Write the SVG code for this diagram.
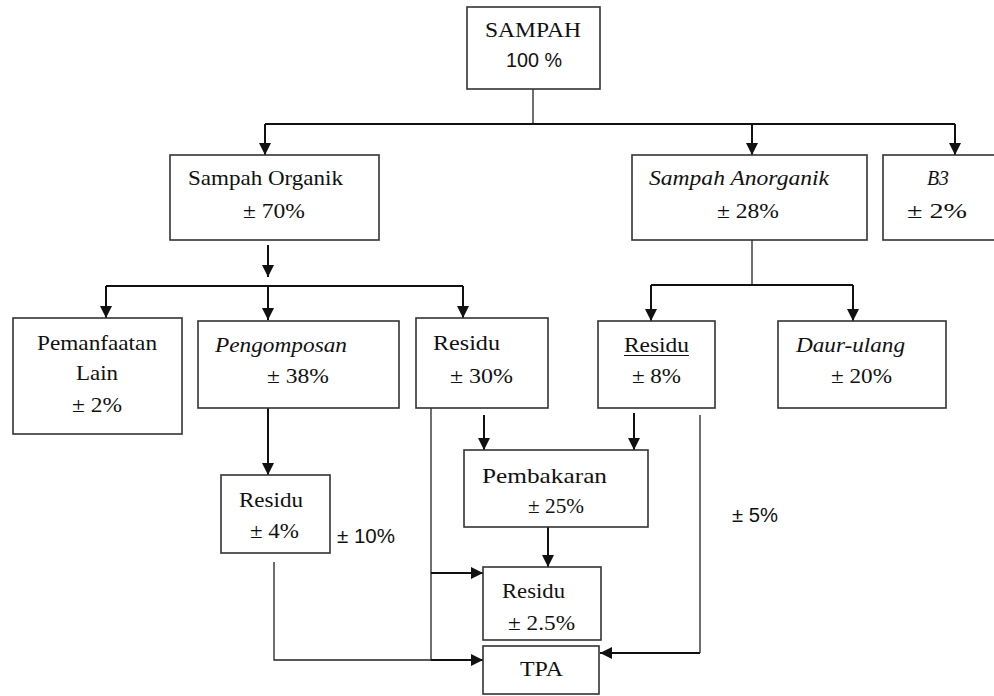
<svg xmlns="http://www.w3.org/2000/svg" width="994" height="696" viewBox="0 0 994 696">
<style>
.box{fill:#fff;stroke:#333;stroke-width:1.6}
.s{font-family:"Liberation Serif","Times New Roman",serif;font-size:22px;fill:#111}
.i{font-style:italic}
.a{font-family:"Liberation Sans",Arial,sans-serif;font-size:20px;fill:#111}
.ln{fill:none;stroke:#111;stroke-width:2}
.thin{fill:none;stroke:#222;stroke-width:1.3}
</style>
<defs>
<marker id="ah" markerUnits="userSpaceOnUse" markerWidth="12" markerHeight="12" refX="12" refY="6" orient="auto">
<path d="M0,0 L12,6 L0,12 z" fill="#111"/>
</marker>
</defs>
<rect width="994" height="696" fill="#fff"/>
<g id="connectors">
<path class="thin" d="M533,89 V124"/>
<path class="ln" d="M265,124 H955"/>
<path class="ln" d="M265,124 V155" marker-end="url(#ah)"/>
<path class="ln" d="M752,124 V155" marker-end="url(#ah)"/>
<path class="ln" d="M955,124 V155" marker-end="url(#ah)"/>
<path class="ln" d="M268,245 V277" marker-end="url(#ah)"/>
<path class="ln" d="M106,286 H463"/>
<path class="ln" d="M106,286 V318" marker-end="url(#ah)"/>
<path class="ln" d="M268,286 V320" marker-end="url(#ah)"/>
<path class="ln" d="M463,286 V318" marker-end="url(#ah)"/>
<path class="thin" d="M752,240 V285"/>
<path class="ln" d="M651,285 H853"/>
<path class="ln" d="M651,285 V321" marker-end="url(#ah)"/>
<path class="ln" d="M853,285 V321" marker-end="url(#ah)"/>
<path class="ln" d="M268,408 V475" marker-end="url(#ah)"/>
<path class="ln" d="M484,415 V450" marker-end="url(#ah)"/>
<path class="ln" d="M634,413 V450" marker-end="url(#ah)"/>
<path class="thin" d="M431,408 V660"/>
<path class="ln" d="M431,573 H483" marker-end="url(#ah)"/>
<path class="ln" d="M548,527 V567" marker-end="url(#ah)"/>
<path class="thin" d="M274,562 V660 H431"/>
<path class="ln" d="M431,660 H483" marker-end="url(#ah)"/>
<path class="thin" d="M700,415 V653"/>
<path class="ln" d="M700,653 H600" marker-end="url(#ah)"/>
</g>
<g id="sampah">
<rect class="box" x="467" y="7" width="133" height="82"/>
<text class="s" x="485" y="37" textLength="96" lengthAdjust="spacingAndGlyphs">SAMPAH</text>
<text class="a" x="506" y="67" textLength="56" lengthAdjust="spacingAndGlyphs">100 %</text>
</g>
<g id="organik">
<rect class="box" x="170" y="155" width="209" height="85"/>
<text class="s" x="188" y="185" textLength="155" lengthAdjust="spacingAndGlyphs">Sampah Organik</text>
<text class="s" x="243" y="218" textLength="62" lengthAdjust="spacingAndGlyphs">± 70%</text>
</g>
<g id="anorganik">
<rect class="box" x="632" y="155" width="235" height="85"/>
<text class="s i" x="649" y="185" textLength="180" lengthAdjust="spacingAndGlyphs">Sampah Anorganik</text>
<text class="s" x="717" y="218" textLength="62" lengthAdjust="spacingAndGlyphs">± 28%</text>
</g>
<g id="b3">
<rect class="box" x="883" y="155" width="120" height="85"/>
<text class="s i" x="927" y="185" textLength="22" lengthAdjust="spacingAndGlyphs">B3</text>
<text class="s" x="907" y="218" textLength="60" lengthAdjust="spacingAndGlyphs">± 2%</text>
</g>
<g id="pemanfaatan">
<rect class="box" x="13" y="318" width="169" height="116"/>
<text class="s" x="37" y="350" textLength="120" lengthAdjust="spacingAndGlyphs">Pemanfaatan</text>
<text class="s" x="76" y="380" textLength="42" lengthAdjust="spacingAndGlyphs">Lain</text>
<text class="s" x="72" y="412" textLength="50" lengthAdjust="spacingAndGlyphs">± 2%</text>
</g>
<g id="pengomposan">
<rect class="box" x="198" y="321" width="201" height="87"/>
<text class="s i" x="215" y="352" textLength="132" lengthAdjust="spacingAndGlyphs">Pengomposan</text>
<text class="s" x="267" y="383" textLength="62" lengthAdjust="spacingAndGlyphs">± 38%</text>
</g>
<g id="residu30">
<rect class="box" x="416" y="318" width="132" height="90"/>
<text class="s" x="433" y="350" textLength="67" lengthAdjust="spacingAndGlyphs">Residu</text>
<text class="s" x="450" y="383" textLength="63" lengthAdjust="spacingAndGlyphs">± 30%</text>
</g>
<g id="residu8">
<rect class="box" x="598" y="321" width="117" height="87"/>
<text class="s" x="624" y="352" textLength="65" lengthAdjust="spacingAndGlyphs">Residu</text>
<path d="M624,355.5 H689" stroke="#111" stroke-width="1.2"/>
<text class="s" x="632" y="383" textLength="49" lengthAdjust="spacingAndGlyphs">± 8%</text>
</g>
<g id="daurulang">
<rect class="box" x="778" y="321" width="168" height="87"/>
<text class="s i" x="796" y="352" textLength="109" lengthAdjust="spacingAndGlyphs">Daur-ulang</text>
<text class="s" x="831" y="383" textLength="61" lengthAdjust="spacingAndGlyphs">± 20%</text>
</g>
<g id="residu4">
<rect class="box" x="221" y="475" width="109" height="78"/>
<text class="s" x="239" y="507" textLength="64" lengthAdjust="spacingAndGlyphs">Residu</text>
<text class="s" x="250" y="538" textLength="49" lengthAdjust="spacingAndGlyphs">± 4%</text>
</g>
<g id="label10">
<text class="a" x="337" y="543" textLength="58" lengthAdjust="spacingAndGlyphs">± 10%</text>
</g>
<g id="pembakaran">
<rect class="box" x="464" y="450" width="184" height="77"/>
<text class="s" x="482" y="483" textLength="125" lengthAdjust="spacingAndGlyphs">Pembakaran</text>
<text class="s" x="528" y="513" textLength="56" lengthAdjust="spacingAndGlyphs">± 25%</text>
</g>
<g id="residu25">
<rect class="box" x="483" y="567" width="118" height="73"/>
<text class="s" x="502" y="598" textLength="63" lengthAdjust="spacingAndGlyphs">Residu</text>
<text class="s" x="508" y="630" textLength="67" lengthAdjust="spacingAndGlyphs">± 2.5%</text>
</g>
<g id="tpa">
<rect class="box" x="483" y="646" width="116" height="48"/>
<text class="s" x="520" y="676" textLength="43" lengthAdjust="spacingAndGlyphs">TPA</text>
</g>
<g id="label5">
<text class="a" x="732" y="522" textLength="46" lengthAdjust="spacingAndGlyphs">± 5%</text>
</g>
</svg>
